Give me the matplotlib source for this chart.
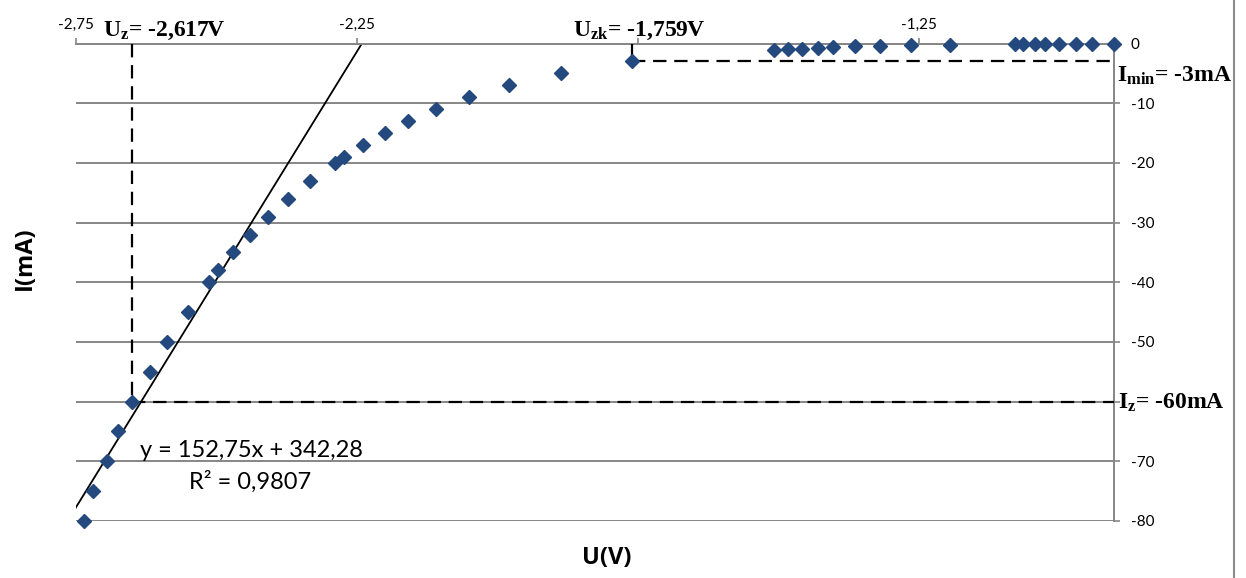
import matplotlib
matplotlib.use('Agg')
import matplotlib.pyplot as plt
import numpy as np

# measured points (U in V, I in mA)
u_vals = [-2.735, -2.720, -2.695, -2.674, -2.649, -2.618, -2.588, -2.551, -2.512, -2.496,
          -2.470, -2.440, -2.407, -2.372, -2.333, -2.289, -2.273, -2.239, -2.200, -2.158,
          -2.109, -2.050, -1.979, -1.887, -1.760, -1.507, -1.482, -1.458, -1.429, -1.403,
          -1.363, -1.319, -1.264, -1.194, -1.079, -1.064, -1.043, -1.025, -1.000, -0.970,
          -0.942, -0.902]
i_vals = [-80, -75, -70, -65, -60, -55, -50, -45, -40, -38,
          -35, -32, -29, -26, -23, -20, -19, -17, -15, -13,
          -11, -9, -7, -5, -3, -1.1, -1.0, -0.9, -0.7, -0.6,
          -0.5, -0.4, -0.3, -0.2, 0, 0, 0, 0, 0, 0,
          0, 0]

# linear trend (from the chart)
slope = 152.75
intercept = 342.28

# the -1,75 and -60 labels are hidden under the annotation boxes in the original
x_ticks = [-2.75, -2.25, -1.75, -1.25]
x_tick_labels = ['-2,75', '-2,25', '', '-1,25']
y_ticks = [0, -10, -20, -30, -40, -50, -60, -70, -80]
y_tick_labels = ['0', '-10', '-20', '-30', '-40', '-50', '', '-70', '-80']

u_z_point = -2.649
i_z = -60
u_zk = -1.760
i_min = -3
x_min, x_max = -2.75, -0.902

plt.rcParams['mathtext.fontset'] = 'custom'
plt.rcParams['mathtext.rm'] = 'Liberation Serif:bold'
plt.rcParams['mathtext.bf'] = 'Liberation Serif:bold'
plt.rcParams['mathtext.it'] = 'Liberation Serif:bold'

W, H = 1246, 578
fig = plt.figure(figsize=(W / 100, H / 100), dpi=100)
ax = fig.add_axes([75.7 / W, 1 - 521 / H, (1114.3 - 75.7) / W, (521 - 43.5) / H])

grid_c = '#868686'
for yv in y_ticks:
    ax.axhline(yv, color=grid_c, lw=1.4, zorder=1)

# trend line
xl = np.array([x_min, x_max])
ax.plot(xl, slope * xl + intercept, color='black', lw=1.3, zorder=2)

# dashed guides
dash = dict(color='black', lw=1.6, linestyle=(0, (6, 3.5)), zorder=3)
ax.plot([u_z_point, u_z_point], [0, i_z], **dash)
ax.plot([u_z_point, x_max], [i_z, i_z], **dash)
ax.plot([u_zk, u_zk], [0, i_min], **dash)
ax.plot([u_zk, x_max], [i_min, i_min], **dash)

ax.plot(u_vals, i_vals, linestyle='none', marker='D', ms=7.5, color='#24497F',
        mec='#24497F', zorder=5, clip_on=False)

ax.set_xlim(x_min, x_max)
ax.set_ylim(-80, 0)

for s in ['left', 'bottom']:
    ax.spines[s].set_visible(False)
ax.spines['top'].set_color(grid_c)
ax.spines['right'].set_color(grid_c)
ax.spines['top'].set_linewidth(1.4)
ax.spines['right'].set_linewidth(1.4)

ax.xaxis.tick_top()
ax.set_xticks(x_ticks)
ax.set_xticklabels(x_tick_labels)
ax.yaxis.tick_right()
ax.set_yticks(y_ticks)
ax.set_yticklabels(y_tick_labels)
ax.tick_params(axis='both', direction='out', length=4, width=1.2, color=grid_c,
               labelsize=11, pad=4)
for lab in ax.get_xticklabels() + ax.get_yticklabels():
    lab.set_family('Lato')
ax.tick_params(axis='y', pad=8)

ax.set_facecolor('none')

# trendline label
fig.text(251 / W, 1 - 457 / H, 'y = 152,75x + 342,28', family='Lato', fontsize=17,
         ha='center', va='baseline')
fig.text(250 / W, 1 - 489 / H, 'R² = 0,9807', family='Lato', fontsize=17,
         ha='center', va='baseline')

# annotations
ann = dict(family='Liberation Serif', fontweight='bold', fontsize=17, va='baseline',
           ha='left', zorder=10)
fig.text(103 / W, 1 - 36 / H, r'U$_{\mathbf{z}}$= -2,617V', **ann)
fig.text(573 / W, 1 - 36 / H, r'U$_{\mathbf{zk}}$= -1,759V', **ann)
fig.text(1117 / W, 1 - 82 / H, r'I$_{\mathbf{min}}$= -3mA', **ann)
fig.text(1118 / W, 1 - 409 / H, r'I$_{\mathbf{z}}$= -60mA', **ann)

# axis titles
fig.text(607 / W, 1 - 558 / H, 'U(V)', family='Open Sans', fontweight='bold', fontsize=17,
         ha='center', va='center')
fig.text(25 / W, 1 - 258 / H, 'I(mA)', family='Open Sans', fontweight='bold', fontsize=17,
         ha='center', va='center', rotation=90)

# chart border on the right
fig.add_artist(plt.Line2D([1233.5 / W, 1233.5 / W], [0, 1], color='#8c8c8c', lw=1.5))

fig.savefig('out.png', dpi=100)
